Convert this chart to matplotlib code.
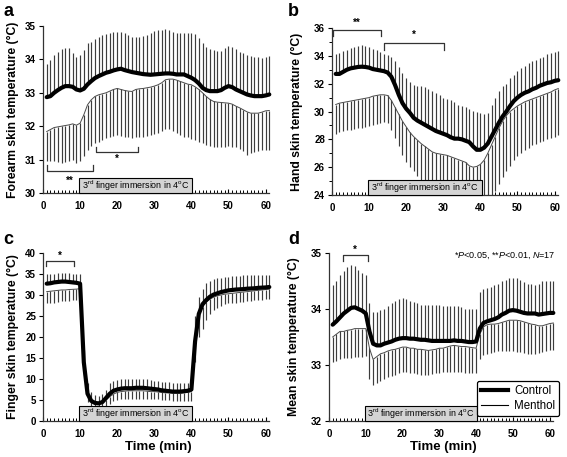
import numpy as np
import matplotlib
matplotlib.use("Agg")
import matplotlib.pyplot as plt
from matplotlib.patches import Rectangle
from matplotlib.lines import Line2D
import matplotlib.transforms as mtransforms

plt.rcParams['font.family'] = ['Liberation Sans', 'DejaVu Sans']
plt.rcParams['mathtext.fontset'] = 'custom'
plt.rcParams['mathtext.rm'] = 'Liberation Sans'
plt.rcParams['mathtext.it'] = 'Liberation Sans:italic'
plt.rcParams['mathtext.bf'] = 'Liberation Sans:bold'

# ---------------- data ----------------
time_min = list(range(1, 62))

# Panel a: forearm
a_ctrl_mean = [32.87, 32.9, 33.0, 33.08, 33.15, 33.2, 33.2, 33.18, 33.1, 33.07,
               33.12, 33.25, 33.35, 33.44, 33.5, 33.55, 33.6, 33.63, 33.67, 33.7,
               33.72, 33.68, 33.65, 33.62, 33.6, 33.58, 33.56, 33.55, 33.54, 33.55,
               33.56, 33.57, 33.58, 33.58, 33.57, 33.55, 33.55, 33.55, 33.5, 33.45,
               33.38, 33.28, 33.15, 33.08, 33.05, 33.05, 33.05, 33.08, 33.15, 33.2,
               33.17, 33.1, 33.05, 33.0, 32.95, 32.92, 32.9, 32.9, 32.9, 32.92, 32.95]
a_ctrl_upper = [33.86, 33.98, 34.13, 34.23, 34.3, 34.35, 34.33, 34.2, 34.06, 34.13,
                34.28, 34.48, 34.53, 34.6, 34.68, 34.73, 34.77, 34.8, 34.81, 34.82,
                34.81, 34.78, 34.72, 34.68, 34.66, 34.66, 34.7, 34.73, 34.8, 34.86,
                34.88, 34.89, 34.9, 34.88, 34.83, 34.78, 34.78, 34.8, 34.8, 34.8,
                34.76, 34.63, 34.5, 34.38, 34.3, 34.28, 34.26, 34.26, 34.33, 34.4,
                34.38, 34.3, 34.23, 34.18, 34.13, 34.1, 34.08, 34.06, 34.03, 34.06, 34.1]
a_men_mean = [31.84, 31.9, 31.96, 31.98, 32.0, 32.02, 32.04, 32.07, 32.03, 32.09,
              32.34, 32.64, 32.79, 32.89, 32.94, 32.97, 33.0, 33.05, 33.1, 33.13,
              33.1, 33.07, 33.05, 33.04, 33.1, 33.12, 33.13, 33.15, 33.17, 33.2,
              33.24, 33.3, 33.39, 33.41, 33.41, 33.38, 33.34, 33.3, 33.26, 33.24,
              33.18, 33.1, 33.0, 32.89, 32.8, 32.74, 32.72, 32.71, 32.7, 32.69,
              32.66, 32.6, 32.55, 32.49, 32.43, 32.39, 32.39, 32.39, 32.42, 32.46, 32.47]
a_men_lower = [30.95, 30.95, 30.95, 30.93, 30.9, 30.93, 30.95, 30.98, 30.9, 30.95,
               31.1, 31.3, 31.4, 31.5, 31.54, 31.59, 31.64, 31.69, 31.71, 31.74,
               31.71, 31.69, 31.67, 31.65, 31.67, 31.69, 31.69, 31.71, 31.74, 31.77,
               31.81, 31.87, 31.91, 31.91, 31.87, 31.79, 31.74, 31.69, 31.67, 31.61,
               31.59, 31.54, 31.5, 31.44, 31.41, 31.39, 31.39, 31.39, 31.39, 31.41,
               31.39, 31.37, 31.31, 31.25, 31.15, 31.2, 31.22, 31.25, 31.28, 31.3, 31.3]

# Panel b: hand
b_ctrl_mean = [32.7, 32.7, 32.85, 33.0, 33.1, 33.15, 33.2, 33.22, 33.2, 33.15,
               33.05, 33.0, 32.95, 32.9, 32.8, 32.5, 31.9, 31.2, 30.6, 30.2,
               29.9, 29.55, 29.35, 29.2, 29.05, 28.9, 28.75, 28.6, 28.5, 28.4,
               28.3, 28.15, 28.05, 28.05, 28.0, 27.9, 27.8, 27.5, 27.25, 27.25,
               27.4, 27.7, 28.2, 28.7, 29.2, 29.65, 30.0, 30.4, 30.75, 31.0,
               31.2, 31.35, 31.45, 31.6, 31.7, 31.85, 31.95, 32.05, 32.1, 32.2, 32.25]
b_ctrl_upper = [34.1, 34.2, 34.35, 34.45, 34.55, 34.65, 34.7, 34.75, 34.7, 34.6,
                34.5, 34.4, 34.3, 34.15, 34.05, 33.95, 33.6, 33.2, 32.8, 32.4,
                32.1, 31.9, 31.8, 31.8, 31.75, 31.6, 31.45, 31.3, 31.15, 31.0,
                30.9, 30.8, 30.65, 30.5, 30.4, 30.3, 30.2, 30.05, 30.0, 29.9,
                29.85, 29.9, 30.5, 31.0, 31.5, 31.8, 32.0, 32.4, 32.6, 32.9,
                33.1, 33.3, 33.5, 33.6, 33.7, 33.85, 33.95, 34.1, 34.2, 34.3, 34.35]
b_men_mean = [30.5, 30.6, 30.65, 30.7, 30.75, 30.8, 30.85, 30.9, 30.95, 31.0,
              31.1, 31.15, 31.2, 31.2, 31.15, 30.8, 30.3, 29.8, 29.3, 28.9,
              28.5, 28.2, 27.95, 27.7, 27.5, 27.3, 27.1, 27.0, 26.95, 26.9,
              26.85, 26.75, 26.65, 26.55, 26.45, 26.35, 26.1, 26.0, 26.05, 26.2,
              26.5, 27.0, 27.6, 28.2, 28.8, 29.3, 29.7, 30.0, 30.2, 30.4,
              30.55, 30.7, 30.8, 30.9, 31.0, 31.1, 31.2, 31.3, 31.4, 31.55, 31.65]
b_men_lower = [28.4, 28.5, 28.6, 28.65, 28.7, 28.75, 28.8, 28.85, 28.9, 28.95,
               29.05, 29.1, 29.2, 29.25, 29.2, 28.7, 28.1, 27.5, 26.9, 26.4,
               26.0, 25.7, 25.4, 25.1, 24.9, 24.6, 24.4, 24.2, 24.0, 23.9,
               23.8, 23.7, 23.6, 23.5, 23.5, 23.5, 23.5, 23.5, 23.5, 23.5,
               23.5, 23.5, 23.8, 24.3, 24.8, 25.3, 25.7, 26.1, 26.5, 26.8,
               27.0, 27.2, 27.4, 27.6, 27.7, 27.8, 27.9, 28.0, 28.1, 28.2, 28.3]

# Panel c: finger
c_ctrl_mean = [32.7, 32.8, 33.0, 33.1, 33.2, 33.2, 33.1, 33.0, 32.9, 32.7,
               14.0, 6.5, 4.8, 4.3, 4.2, 4.5, 5.5, 6.5, 7.2, 7.5,
               7.7, 7.8, 7.8, 7.8, 7.9, 7.9, 7.9, 7.8, 7.7, 7.6,
               7.5, 7.3, 7.2, 7.1, 7.0, 7.0, 7.0, 7.1, 7.2, 7.5,
               19.0, 25.5, 27.8, 28.8, 29.6, 30.1, 30.4, 30.7, 30.9, 31.1,
               31.2, 31.3, 31.35, 31.4, 31.5, 31.55, 31.6, 31.7, 31.75, 31.8, 31.9]
c_ctrl_upper = [35.0, 35.0, 35.1, 35.2, 35.3, 35.3, 35.2, 35.1, 35.0, 35.0,
                17.0, 9.0, 7.0, 6.2, 6.0, 6.5, 7.5, 9.0, 9.5, 9.8,
                10.0, 10.0, 10.0, 10.0, 10.0, 10.0, 10.0, 10.0, 9.8, 9.5,
                9.5, 9.3, 9.3, 9.2, 9.1, 9.0, 9.0, 9.0, 9.0, 9.5,
                25.0, 29.5, 31.5, 32.8, 33.3, 33.7, 34.0, 34.1, 34.3, 34.4,
                34.5, 34.6, 34.6, 34.7, 34.7, 34.8, 34.8, 34.8, 34.8, 34.8, 34.8]
c_men_mean = [30.8, 30.9, 31.0, 31.1, 31.2, 31.2, 31.3, 31.35, 31.4, 31.5,
              13.0, 6.0, 4.5, 4.1, 4.0, 4.2, 5.0, 5.8, 6.4, 6.8,
              7.0, 7.1, 7.2, 7.2, 7.2, 7.2, 7.2, 7.1, 7.0, 7.0,
              6.9, 6.8, 6.7, 6.7, 6.6, 6.6, 6.6, 6.7, 6.8, 7.0,
              18.0, 25.0, 27.2, 28.3, 29.0, 29.5, 29.8, 30.0, 30.2, 30.3,
              30.4, 30.5, 30.6, 30.7, 30.8, 30.9, 31.0, 31.1, 31.2, 31.3, 31.4]
c_men_lower = [28.0, 28.1, 28.2, 28.3, 28.5, 28.5, 28.6, 28.7, 28.8, 29.0,
               11.0, 4.5, 3.5, 3.4, 3.4, 3.5, 3.6, 4.0, 4.8, 5.0,
               5.2, 5.3, 5.3, 5.3, 5.3, 5.3, 5.3, 5.3, 5.3, 5.3,
               5.2, 5.1, 5.0, 4.9, 4.8, 4.8, 4.8, 4.8, 4.8, 4.8,
               14.0, 20.0, 22.0, 24.0, 25.5, 26.5, 27.0, 27.5, 27.8, 28.0,
               28.1, 28.2, 28.3, 28.4, 28.5, 28.6, 28.7, 28.8, 28.9, 29.0, 29.0]

# Panel d: mean skin
d_ctrl_mean = [33.72, 33.78, 33.85, 33.92, 33.97, 34.02, 34.03, 34.0, 33.97, 33.92,
               33.6, 33.38, 33.35, 33.35, 33.38, 33.4, 33.42, 33.45, 33.47, 33.48,
               33.48, 33.47, 33.47, 33.46, 33.45, 33.45, 33.44, 33.43, 33.43, 33.43,
               33.43, 33.43, 33.43, 33.44, 33.43, 33.43, 33.42, 33.41, 33.41, 33.42,
               33.65, 33.75, 33.78, 33.8, 33.82, 33.85, 33.9, 33.93, 33.97, 33.98,
               33.97, 33.95, 33.93, 33.92, 33.92, 33.92, 33.9, 33.91, 33.92, 33.93, 33.93]
d_ctrl_upper = [34.42, 34.5, 34.6, 34.68, 34.75, 34.78, 34.76, 34.7, 34.65, 34.6,
                34.1, 33.95, 33.95, 33.98, 34.0, 34.05, 34.1, 34.15, 34.18, 34.2,
                34.18, 34.15, 34.12, 34.1, 34.08, 34.07, 34.07, 34.07, 34.07, 34.07,
                34.06, 34.06, 34.06, 34.05, 34.05, 34.04, 34.0, 34.0, 34.0, 34.0,
                34.3, 34.35, 34.38, 34.4, 34.42, 34.45, 34.5, 34.52, 34.55, 34.55,
                34.55, 34.52, 34.48, 34.45, 34.45, 34.42, 34.45, 34.5, 34.5, 34.5, 34.5]
d_men_mean = [33.5, 33.55, 33.6, 33.6, 33.62, 33.63, 33.65, 33.65, 33.65, 33.65,
              33.3, 33.1, 33.15, 33.2, 33.22, 33.25, 33.27, 33.28, 33.3, 33.32,
              33.32, 33.3, 33.3, 33.28, 33.28, 33.27, 33.26, 33.27, 33.28, 33.3,
              33.3, 33.32, 33.34, 33.35, 33.34, 33.33, 33.33, 33.32, 33.31, 33.3,
              33.55, 33.68, 33.72, 33.73, 33.73, 33.74, 33.76, 33.78, 33.8, 33.8,
              33.8, 33.79, 33.77, 33.75, 33.73, 33.72, 33.7, 33.7, 33.72, 33.74, 33.75]
d_men_lower = [33.05, 33.08, 33.1, 33.12, 33.13, 33.13, 33.14, 33.14, 33.15, 33.16,
               32.75, 32.65, 32.68, 32.72, 32.75, 32.78, 32.8, 32.82, 32.85, 32.87,
               32.87, 32.86, 32.85, 32.84, 32.83, 32.83, 32.83, 32.84, 32.85, 32.86,
               32.87, 32.88, 32.88, 32.88, 32.88, 32.87, 32.86, 32.86, 32.85, 32.85,
               33.1, 33.17, 33.2, 33.22, 33.23, 33.25, 33.25, 33.25, 33.25, 33.25,
               33.24, 33.23, 33.22, 33.2, 33.2, 33.2, 33.22, 33.24, 33.25, 33.26, 33.27]

xticks = [0, 10, 20, 30, 40, 50, 60]
immersion_start, immersion_end = 10, 40
box_text = r"3$^{\mathrm{rd}}$ finger immersion in 4$^{\mathrm{o}}$C"

# ---------------- figure ----------------
W, H = 567, 457
fig = plt.figure(figsize=(W / 100, H / 100), dpi=100)


def px_axes(left, top, right, bottom):
    return fig.add_axes([left / W, 1 - bottom / H, (right - left) / W, (bottom - top) / H])


ax_a = px_axes(43, 26, 273, 193)
ax_b = px_axes(332, 28, 562, 195)
ax_c = px_axes(43, 253, 273, 421)
ax_d = px_axes(329, 253, 557, 421)

BAR = '#3c3c3c'


def panel(ax, cm, cu, mm, ml, ylim, yticks, yminor, ylabel, labx):
    t = np.array(time_min)
    ax.vlines(t, cm, cu, color=BAR, lw=0.85, zorder=2)
    ax.vlines(t, ml, mm, color=BAR, lw=0.85, zorder=2)
    ax.plot(t, mm, color='#4a4a4a', lw=0.7, zorder=3)
    ax.plot(t, cm, color='black', lw=3.0, zorder=4, solid_capstyle='round')
    ax.set_xlim(0, 62)
    ax.set_ylim(*ylim)
    ax.set_yticks(yticks)
    if yminor is not None:
        ax.set_yticks(yminor, minor=True)
    ax.set_xticks(xticks)
    ax.set_xticks(range(0, 61), minor=True)
    for s in ['top', 'right']:
        ax.spines[s].set_visible(False)
    ax.spines['left'].set_color('#333333')
    ax.spines['bottom'].set_color('#333333')
    ax.spines['left'].set_linewidth(0.9)
    ax.spines['bottom'].set_linewidth(0.9)
    ax.spines['bottom'].set_bounds(0, 61)
    ax.tick_params(axis='x', which='major', direction='in', length=3, width=0.8,
                   labelsize=7, pad=6)
    ax.tick_params(axis='x', which='minor', direction='in', length=2.2, width=0.7)
    ax.tick_params(axis='y', which='major', direction='out', length=3, width=0.8,
                   labelsize=7, pad=2)
    ax.tick_params(axis='y', which='minor', direction='out', length=2, width=0.7)
    for lab in ax.get_xticklabels() + ax.get_yticklabels():
        lab.set_fontweight('bold')
    ax.set_ylabel(ylabel, fontsize=8.8, fontweight='bold')
    ax.yaxis.set_label_coords(labx, 0.5)
    trans = mtransforms.blended_transform_factory(ax.transData, ax.transAxes)
    ax.add_patch(Rectangle((immersion_start - 0.3, 0.0), immersion_end - immersion_start + 0.6, 0.088,
                           transform=trans, facecolor='#d4d4d4', edgecolor='black',
                           lw=0.8, zorder=6, clip_on=False))
    ax.text((immersion_start + immersion_end) / 2, 0.044, box_text, transform=trans,
            ha='center', va='center', fontsize=6.4, zorder=7)


def bracket(ax, x0, x1, y, yend, label, ly):
    ax.plot([x0, x0, x1, x1], [yend, y, y, yend], color='#333333', lw=0.9,
            clip_on=False, zorder=5)
    ax.text((x0 + x1) / 2, ly, label, ha='center', va='center', fontsize=7,
            fontweight='bold', clip_on=False)


panel(ax_a, a_ctrl_mean, a_ctrl_upper, a_men_mean, a_men_lower, (30, 35),
      [30, 31, 32, 33, 34, 35], None, "Forearm skin temperature (°C)", -0.105)
bracket(ax_a, 1, 13.5, 30.67, 30.84, "**", 30.36)
bracket(ax_a, 14.3, 25.5, 31.23, 31.38, "*", 31.02)

panel(ax_b, b_ctrl_mean, b_ctrl_upper, b_men_mean, b_men_lower, (24, 36),
      [24, 26, 28, 30, 32, 34, 36], list(range(24, 37)), "Hand skin temperature (°C)", -0.128)
bracket(ax_b, 0.3, 13.2, 35.83, 35.45, "**", 36.35)
bracket(ax_b, 14.0, 30.1, 34.92, 34.45, "*", 35.5)

panel(ax_c, c_ctrl_mean, c_ctrl_upper, c_men_mean, c_men_lower, (0, 40),
      [0, 5, 10, 15, 20, 25, 30, 35, 40], None, "Finger skin temperature (°C)", -0.105)
bracket(ax_c, 0.8, 8.4, 38.0, 36.8, "*", 39.3)

panel(ax_d, d_ctrl_mean, d_ctrl_upper, d_men_mean, d_men_lower, (32, 35),
      [32, 33, 34, 35], None, "Mean skin temperature (°C)", -0.128)
bracket(ax_d, 3.7, 10.6, 34.96, 34.85, "*", 35.06)

ax_c.set_xlabel("Time (min)", fontsize=9.5, fontweight='bold', labelpad=1)
ax_d.set_xlabel("Time (min)", fontsize=9.5, fontweight='bold', labelpad=1)

ax_d.text(0.995, 0.985, r"*$\it{P}$<0.05, **$\it{P}$<0.01, $\it{N}$=17", transform=ax_d.transAxes,
          ha='right', va='center', fontsize=6.5)

handles = [Line2D([], [], color='black', lw=3.0), Line2D([], [], color='black', lw=0.8)]
leg = ax_d.legend(handles, ["Control", "Menthol"], loc='lower right',
                  bbox_to_anchor=(1.01, 0.03), fontsize=8.3, handlelength=2.4,
                  frameon=True, fancybox=True, borderpad=0.35, labelspacing=0.25,
                  handletextpad=0.5, borderaxespad=0)
leg.get_frame().set_edgecolor('black')
leg.get_frame().set_linewidth(0.9)
leg.get_frame().set_alpha(1)
leg.set_zorder(10)

for letter, x, y in [("a", 3, 11), ("b", 288, 11), ("c", 3, 239), ("d", 288, 239)]:
    fig.text(x / W, 1 - y / H, letter, fontsize=13, fontweight='bold', va='center', ha='left')

fig.savefig("out.png", dpi=100)
